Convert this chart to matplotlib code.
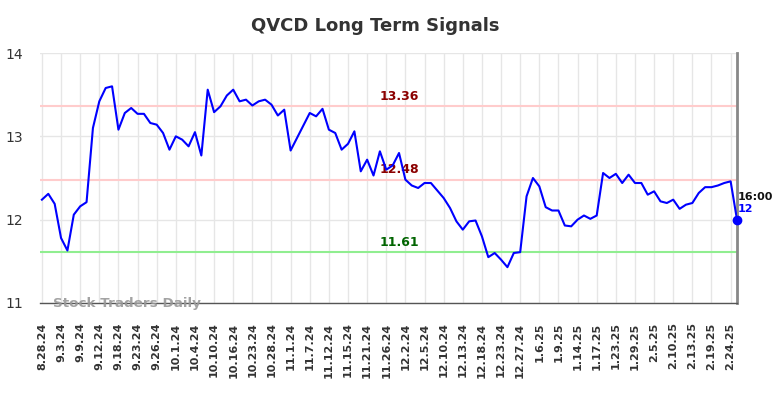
import matplotlib
matplotlib.use("Agg")
import matplotlib.pyplot as plt

title = "QVCD Long Term Signals"

values = [
    12.24, 12.31, 12.19, 11.78, 11.63, 12.06, 12.16, 12.21, 13.10, 13.42,
    13.58, 13.60, 13.08, 13.28, 13.34, 13.27, 13.27, 13.16, 13.14, 13.04,
    12.84, 13.00, 12.96, 12.88, 13.05, 12.77, 13.56, 13.29, 13.36, 13.49,
    13.56, 13.42, 13.44, 13.37, 13.42, 13.44, 13.38, 13.25, 13.32, 12.83,
    12.98, 13.13, 13.28, 13.24, 13.33, 13.08, 13.04, 12.84, 12.91, 13.06,
    12.58, 12.72, 12.53, 12.82, 12.60, 12.65, 12.80, 12.48, 12.41, 12.38,
    12.44, 12.44, 12.35, 12.26, 12.14, 11.98, 11.88, 11.98, 11.99, 11.80,
    11.55, 11.60, 11.52, 11.43, 11.60, 11.61, 12.28, 12.50, 12.40, 12.15,
    12.11, 12.11, 11.93, 11.92, 12.00, 12.05, 12.01, 12.05, 12.56, 12.50,
    12.55, 12.44, 12.54, 12.44, 12.44, 12.30, 12.34, 12.22, 12.20, 12.24,
    12.13, 12.18, 12.20, 12.32, 12.39, 12.39, 12.41, 12.44, 12.46, 12.00,
]

tick_labels = [
    "8.28.24", "9.3.24", "9.9.24", "9.12.24", "9.18.24", "9.23.24", "9.26.24",
    "10.1.24", "10.4.24", "10.10.24", "10.16.24", "10.23.24", "10.28.24",
    "11.1.24", "11.7.24", "11.12.24", "11.15.24", "11.21.24", "11.26.24",
    "12.2.24", "12.5.24", "12.10.24", "12.13.24", "12.18.24", "12.23.24",
    "12.27.24", "1.6.25", "1.9.25", "1.14.25", "1.17.25", "1.23.25",
    "1.29.25", "2.5.25", "2.10.25", "2.13.25", "2.19.25", "2.24.25",
]
tick_step = 3

upper_levels = [13.36, 12.48]
lower_level = 11.61
last_time = "16:00"
last_label = "12"
watermark = "Stock Traders Daily"

fig = plt.figure(figsize=(7.84, 3.98), dpi=100)
ax = fig.add_axes([40 / 784, 1 - 303 / 398, 697 / 784, 250 / 398])

x = list(range(len(values)))
ax.set_xlim(-0.3, len(values) - 1)
ax.set_ylim(11, 14)

# grid
ax.set_xticks([i * tick_step for i in range(len(tick_labels))])
ax.set_xticklabels(tick_labels, rotation=90, fontsize=8, fontweight="bold", color="#333333")
ax.set_yticks([11, 12, 13, 14])
ax.set_yticklabels(["11", "12", "13", "14"], fontsize=10, color="#333333")
ax.grid(True, color="#e6e6e6", linewidth=1)
ax.set_axisbelow(True)
ax.tick_params(axis="both", length=0)
ax.tick_params(axis="x", pad=14)
ax.tick_params(axis="y", pad=12)

for s in ["top", "left"]:
    ax.spines[s].set_visible(False)
ax.spines["bottom"].set_color("#555555")
ax.spines["bottom"].set_linewidth(1)
ax.spines["right"].set_color("#888888")
ax.spines["right"].set_linewidth(2)

# level lines
for lv in upper_levels:
    ax.axhline(lv, color="#ffcccc", linewidth=1.5, zorder=1)
    ax.text(56, lv + 0.04, f"{lv:.2f}", color="#8b0000", fontsize=9,
            fontweight="bold", ha="center", va="bottom", zorder=3)
ax.axhline(lower_level, color="#90ee90", linewidth=1.5, zorder=1)
ax.text(56, lower_level + 0.04, f"{lower_level:.2f}", color="#006400", fontsize=9,
        fontweight="bold", ha="center", va="bottom", zorder=3)

# price line
ax.plot(x, values, color="#0000ff", linewidth=1.5, zorder=4)
ax.plot([x[-1]], [values[-1]], "o", color="#0000ff", markersize=6, zorder=5, clip_on=False)

ax.text(x[-1] + 0.05, values[-1] + 0.27, last_time, color="#111111", fontsize=8,
        fontweight="bold", ha="left", va="center")
ax.text(x[-1] + 0.05, values[-1] + 0.13, last_label, color="#0000ff", fontsize=8,
        fontweight="bold", ha="left", va="center")

ax.text(1.7, 11.0, watermark, color="#999999", fontsize=9.7, fontweight="bold",
        ha="left", va="center", alpha=0.9, zorder=6)

fig.text(375 / 784, 1 - 26 / 398, title, fontsize=13, fontweight="bold",
         color="#333333", ha="center", va="center")

fig.savefig("out.png", dpi=100)
